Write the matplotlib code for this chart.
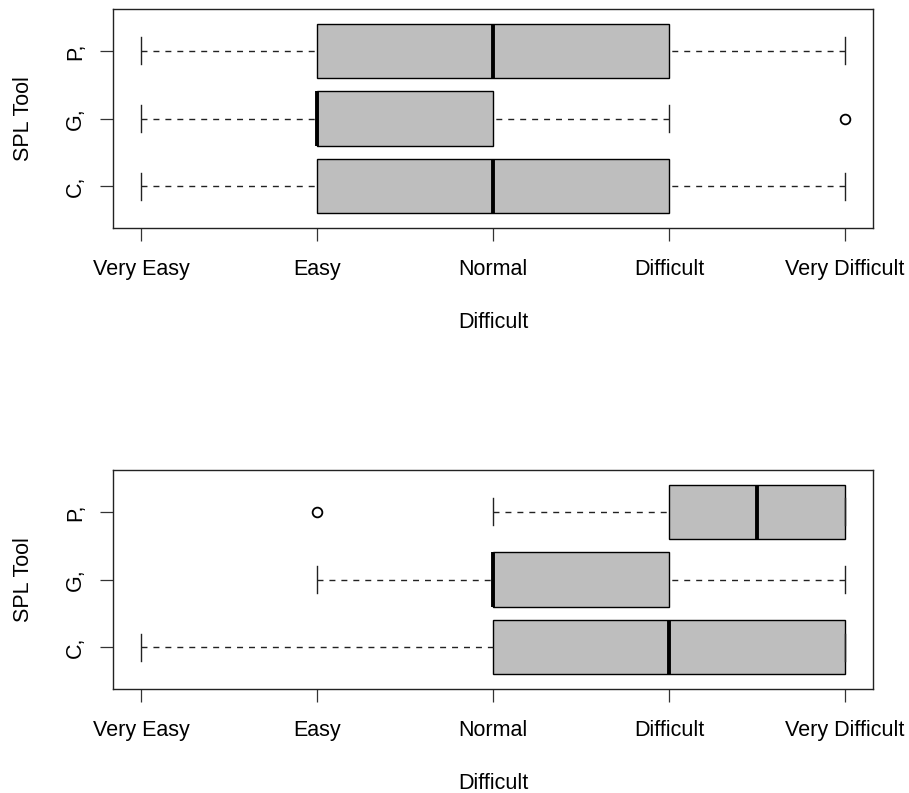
import matplotlib
matplotlib.use("Agg")
import matplotlib.pyplot as plt

plt.rcParams['font.family'] = ['Liberation Sans', 'DejaVu Sans']

# Data
tools = ["C,", "G,", "P,"]
level_labels = ["Very Easy", "Easy", "Normal", "Difficult", "Very Difficult"]
level_values = [1, 2, 3, 4, 5]

# top panel: (whislo, q1, med, q3, whishi) per tool
top_whislo = [1, 1, 1]
top_q1 = [2, 2, 2]
top_med = [3, 2, 3]
top_q3 = [4, 3, 4]
top_whishi = [5, 4, 5]
top_fliers = [[], [5], []]

# bottom panel
bot_whislo = [1, 2, 3]
bot_q1 = [3, 3, 4]
bot_med = [4, 3, 4.5]
bot_q3 = [5, 4, 5]
bot_whishi = [5, 5, 5]
bot_fliers = [[], [], [2]]

W, H = 909, 793
fig = plt.figure(figsize=(W / 100, H / 100), dpi=100)


def px_axes(left, top, right, bottom):
    return fig.add_axes([left / W, 1 - bottom / H, (right - left) / W, (bottom - top) / H])


def draw(ax, whislo, q1, med, q3, whishi, fliers):
    stats = []
    for i in range(len(tools)):
        stats.append(dict(whislo=whislo[i], q1=q1[i], med=med[i], q3=q3[i],
                          whishi=whishi[i], fliers=fliers[i], label=tools[i]))
    res = ax.bxp(stats, positions=[1, 2, 3], widths=0.8, capwidths=0.4, vert=False,
                 patch_artist=True,
                 boxprops=dict(facecolor="#BEBEBE", edgecolor="black", linewidth=1.0),
                 medianprops=dict(color="black", linewidth=2.8, solid_capstyle="butt"),
                 whiskerprops=dict(color="#222222", linewidth=1.0, linestyle=(0, (4.3, 4.3))),
                 capprops=dict(color="#222222", linewidth=1.0),
                 flierprops=dict(marker="o", markerfacecolor="none", markeredgecolor="black",
                                 markersize=7, markeredgewidth=1.3))
    # draw whiskers from the cap toward the box (as R does)
    for wl in res["whiskers"]:
        xd, yd = wl.get_xdata(), wl.get_ydata()
        wl.set_data(xd[::-1], yd[::-1])
    ax.set_xlim(0.84, 5.16)
    ax.set_ylim(0.38, 3.62)
    ax.set_xticks(level_values)
    ax.set_xticklabels(level_labels, fontsize=15.5)
    ax.set_yticks([1, 2, 3])
    ax.set_yticklabels(tools, fontsize=15.5, rotation=90, va="center")
    ax.tick_params(axis="both", direction="out", length=9.4, width=0.9, color="#333333")
    ax.tick_params(axis="x", pad=12.6)
    ax.tick_params(axis="y", pad=10)
    for s in ax.spines.values():
        s.set_linewidth(1.0)
        s.set_color("#222222")
    ax.set_xlabel("Difficult", fontsize=15.5, labelpad=23.5)
    ax.set_ylabel("SPL Tool", fontsize=15.5, labelpad=22)


ax1 = px_axes(113, 9, 873, 228)
draw(ax1, top_whislo, top_q1, top_med, top_q3, top_whishi, top_fliers)
ax2 = px_axes(113, 470, 873, 689)
draw(ax2, bot_whislo, bot_q1, bot_med, bot_q3, bot_whishi, bot_fliers)

fig.savefig("out.png", dpi=100)
